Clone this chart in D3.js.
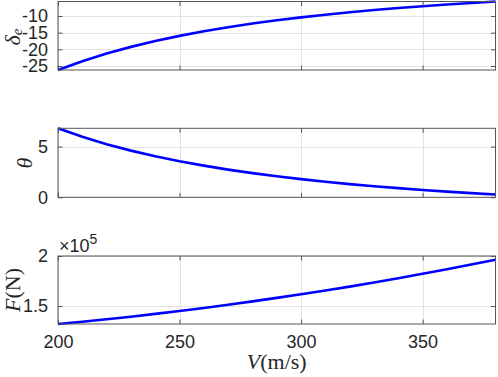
<!DOCTYPE html>
<html>
<head>
<meta charset="utf-8">
<script src="https://cdn.jsdelivr.net/npm/d3@7"></script>
<style>
  body { margin: 0; background: #fff; }
  svg { display: block; }
  .tick text { font-family: "Liberation Sans", Arial, sans-serif; font-size: 18px; fill: #262626; }
  .lbl { font-family: "Liberation Serif", "DejaVu Serif", serif; font-size: 22px; fill: #262626; }
</style>
</head>
<body>
<div id="chart"></div>
<script>
const speed = [200, 210, 220, 230, 240, 250, 260, 270, 280, 290, 300, 310, 320, 330, 340, 350, 360, 370, 380];
const deltaE = [-26.20, -23.55, -21.26, -19.26, -17.51, -15.96, -14.59, -13.36, -12.27, -11.29, -10.40,
  -9.60, -8.87, -8.21, -7.60, -7.05, -6.54, -6.07, -5.64];
const theta = [6.80, 5.96, 5.23, 4.60, 4.04, 3.55, 3.12, 2.73, 2.38, 2.07, 1.79,
  1.53, 1.30, 1.09, 0.90, 0.72, 0.56, 0.41, 0.28];
const force = [132000, 134300, 136700, 139300, 142100, 145000, 148000, 151200, 154600, 158100, 161700,
  165500, 169400, 173500, 177800, 182200, 186700, 191500, 196300];
const xTicks = [200, 250, 300, 350];

const W = 498, H = 377;
const left = 58, right = 495.5;

const svg = d3.select("#chart").append("svg")
  .attr("width", W).attr("height", H);

const x = d3.scaleLinear().domain([200, 380]).range([left, right]);

const panels = [
  { vals: deltaE, top: 1.5, bottom: 70, domain: [-26.2, -5.64], ticks: [-25, -20, -15, -10], fmt: (d) => d },
  { vals: theta, top: 128.3, bottom: 197.3, domain: [0, 6.8], ticks: [0, 5], fmt: (d) => d },
  { vals: force, top: 256, bottom: 324, domain: [132000, 200000], ticks: [150000, 200000], fmt: (d) => d / 1e5 }
];

panels.forEach((p, i) => {
  const y = d3.scaleLinear().domain(p.domain).range([p.bottom, p.top]);
  const g = svg.append("g");

  // grid
  g.append("g").selectAll("line").data(xTicks).enter().append("line")
    .attr("x1", (d) => Math.round(x(d)) + 0.5).attr("x2", (d) => Math.round(x(d)) + 0.5)
    .attr("y1", p.top).attr("y2", p.bottom)
    .attr("stroke", "#e3e3e3");
  g.append("g").selectAll("line").data(p.ticks).enter().append("line")
    .attr("y1", (d) => Math.round(y(d)) + 0.5).attr("y2", (d) => Math.round(y(d)) + 0.5)
    .attr("x1", left).attr("x2", right)
    .attr("stroke", "#e3e3e3");

  // line
  g.append("path")
    .datum(speed.map((v, k) => [v, p.vals[k]]))
    .attr("fill", "none")
    .attr("stroke", "#0000ff")
    .attr("stroke-width", 2.6)
    .attr("d", d3.line().x((d) => x(d[0])).y((d) => y(d[1])));

  // axes (ticks inward, mirrored)
  const ax = d3.axisBottom(x).tickValues(xTicks).tickSizeInner(-4.5).tickSizeOuter(0).tickPadding(11);
  if (i < 2) ax.tickFormat("");
  const gx = g.append("g").attr("transform", `translate(0,${p.bottom})`).call(ax);
  g.append("g").attr("transform", `translate(0,${p.top})`)
    .call(d3.axisTop(x).tickValues(xTicks).tickSizeInner(-4.5).tickSizeOuter(0).tickFormat(""));
  g.append("g").attr("transform", `translate(${left},0)`)
    .call(d3.axisLeft(y).tickValues(p.ticks).tickSizeInner(-4.5).tickSizeOuter(0).tickPadding(10).tickFormat(p.fmt));
  g.append("g").attr("transform", `translate(${right},0)`)
    .call(d3.axisRight(y).tickValues(p.ticks).tickSizeInner(-4.5).tickSizeOuter(0).tickFormat(""));

  g.selectAll(".domain").remove();
  g.selectAll(".tick line").attr("stroke", "#555");
  gx.selectAll(".tick text").attr("dy", "0.71em");

  g.append("rect")
    .attr("x", left).attr("y", p.top)
    .attr("width", right - left).attr("height", p.bottom - p.top)
    .attr("fill", "none").attr("stroke", "#555").attr("stroke-width", 1);
});

// y labels
const yl = [
  { x: 19.5, y: 37, size: 21, parts: [["δ", "italic", null], ["e", "italic", "sub"]] },
  { x: 31.5, y: 163, size: 22, parts: [["θ", "italic", null]] },
  { x: 19.5, y: 290, size: 21, parts: [["F", "italic", null], ["(N)", "normal", null]] }
];
yl.forEach((l) => {
  const t = svg.append("text").attr("class", "lbl")
    .attr("font-size", l.size + "px")
    .attr("transform", `translate(${l.x},${l.y}) rotate(-90)`)
    .attr("text-anchor", "middle");
  l.parts.forEach((pt) => {
    const s = t.append("tspan").attr("font-style", pt[1]).text(pt[0]);
    if (pt[2] === "sub") s.attr("baseline-shift", "-2px").attr("font-size", "15px");
  });
});

// x label
const xl = svg.append("text").attr("class", "lbl")
  .attr("x", (left + right) / 2).attr("y", 369)
  .attr("text-anchor", "middle");
xl.append("tspan").attr("font-style", "italic").text("V");
xl.append("tspan").text("(m/s)");

// exponent
const ex = svg.append("text")
  .attr("x", left + 1).attr("y", 251.5)
  .attr("font-family", "Liberation Sans, Arial, sans-serif")
  .attr("font-size", "18px").attr("fill", "#262626");
ex.append("tspan").text("×10");
ex.append("tspan").attr("baseline-shift", "super").attr("font-size", "14px").text("5");
</script>
</body>
</html>
